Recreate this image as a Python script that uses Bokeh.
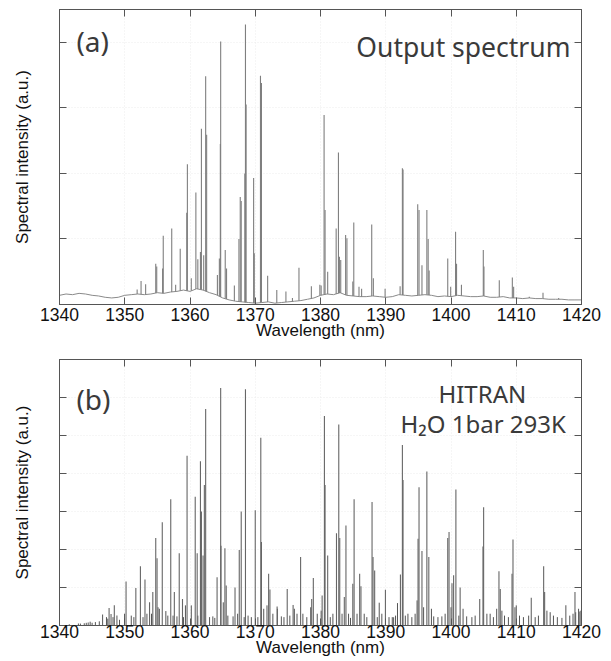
import numpy as np
from bokeh.plotting import figure
from bokeh.layouts import column
from bokeh.models import (LinearAxis, FixedTicker, CustomJSTickFormatter, Label,
                          Range1d, ColumnDataSource)
from bokeh.embed import file_html
from bokeh.resources import INLINE

# ---------------- data ----------------
x_ticks = [1340, 1350, 1360, 1370, 1380, 1390, 1400, 1410, 1420]
y_ticks_a = [1, 2, 3, 4]
y_ticks_b = [1, 2, 3, 4, 5, 6]

# (a) measured output spectrum: background level (every 1 nm)
base_wl_a = list(range(1340, 1421))
base_a = [0.14, 0.16, 0.15, 0.17, 0.16, 0.14, 0.13, 0.11, 0.10, 0.11,
          0.14, 0.15, 0.16, 0.15, 0.16, 0.18, 0.17, 0.19, 0.20, 0.22,
          0.20, 0.24, 0.22, 0.18, 0.15, 0.10, 0.07, 0.05, 0.04, 0.03,
          0.02, 0.03, 0.04, 0.02, 0.03, 0.04, 0.05, 0.06, 0.08, 0.10,
          0.14, 0.16, 0.15, 0.18, 0.14, 0.13, 0.12, 0.12, 0.13, 0.12,
          0.11, 0.12, 0.15, 0.14, 0.13, 0.14, 0.15, 0.14, 0.12, 0.13,
          0.12, 0.14, 0.13, 0.12, 0.12, 0.13, 0.11, 0.11, 0.12, 0.10,
          0.10, 0.09, 0.10, 0.09, 0.09, 0.08, 0.08, 0.08, 0.07, 0.07,
          0.07]

# (a) absorption-line peaks: wavelength (nm) and peak intensity
peak_wl_a = [1351.9, 1352.5, 1353.2, 1354.75, 1354.9, 1355.8, 1355.9, 1357.2,
             1357.8, 1358.5, 1359.5, 1359.6, 1360.2, 1360.9, 1361.2, 1361.6,
             1361.75, 1362.1, 1362.4, 1362.55, 1364.2, 1364.5, 1364.65, 1364.7,
             1365.4, 1365.6, 1366.8, 1367.5, 1367.7, 1367.85, 1368.4, 1368.5,
             1368.6, 1369.75, 1369.85, 1370.8, 1370.95, 1371.9, 1373.3, 1374.7,
             1375.7, 1376.7, 1378.6, 1379.9, 1380.1, 1380.55, 1380.7, 1381.1,
             1382.4, 1382.75, 1382.9, 1383.1, 1383.85, 1384.05, 1384.95, 1385.1,
             1385.9, 1386.3, 1387.85, 1388.1, 1389.9, 1392.2, 1392.55, 1392.65,
             1394.9, 1395.1, 1395.55, 1396.3, 1396.5, 1396.65, 1399.5, 1399.95,
             1400.7, 1400.85, 1401.6, 1404.95, 1405.05, 1407.4, 1409.4, 1409.6,
             1412.0, 1414.1, 1416.5]
peak_a = [0.23, 0.36, 0.31, 0.62, 0.58, 0.55, 1.05, 1.16,
          0.30, 0.85, 1.40, 2.14, 0.40, 1.71, 0.69, 0.80,
          2.68, 0.75, 3.48, 2.59, 0.45, 0.70, 2.45, 4.01,
          0.83, 0.55, 0.29, 1.00, 1.64, 1.58, 2.00, 4.27,
          3.05, 1.93, 0.78, 3.49, 3.38, 0.44, 0.22, 0.20,
          0.10, 0.56, 0.28, 0.30, 0.29, 2.89, 1.44, 0.50,
          1.16, 2.32, 0.73, 0.68, 1.06, 1.01, 0.35, 1.25,
          0.27, 0.24, 1.22, 0.40, 0.24, 0.28, 2.08, 2.06,
          1.53, 1.44, 0.60, 1.44, 1.00, 0.52, 0.70, 0.27,
          1.11, 0.62, 0.30, 0.83, 0.58, 0.37, 0.41, 0.27,
          0.12, 0.18, 0.10]

# (b) HITRAN H2O lines: strong lines
line_wl_b = [1341.5, 1342.9, 1343.8, 1344.4, 1345.0, 1346.6, 1347.6, 1347.9,
             1348.4, 1348.8, 1350.2, 1351.7, 1352.4, 1353.1, 1353.8, 1354.3,
             1354.75, 1354.95, 1355.75, 1357.05, 1357.6, 1358.35, 1358.85, 1359.55,
             1360.8, 1361.1, 1361.6, 1361.75, 1362.0, 1362.2, 1362.4, 1364.15,
             1364.7, 1364.75, 1365.35, 1365.55, 1366.9, 1367.55, 1367.85, 1368.5,
             1370.0, 1370.85, 1370.95, 1372.05, 1372.25, 1373.4, 1374.9, 1376.0,
             1376.95, 1378.65, 1378.9, 1380.25, 1380.6, 1380.7, 1381.1, 1382.45,
             1382.8, 1382.95, 1383.65, 1383.9, 1384.95, 1385.15, 1386.0, 1386.2,
             1387.9, 1388.05, 1388.3, 1389.95, 1391.2, 1392.25, 1392.55, 1392.65,
             1394.95, 1395.1, 1395.55, 1396.3, 1396.6, 1399.5, 1399.7, 1400.15,
             1400.4, 1400.75, 1401.4, 1404.4, 1404.9, 1405.0, 1407.35, 1407.55,
             1409.35, 1409.5, 1409.8, 1412.3, 1414.2, 1414.35, 1417.6, 1419.0,
             1419.1, 1419.65]
line_b = [0.03, 0.05, 0.06, 0.08, 0.07, 0.29, 0.46, 0.30,
          0.53, 0.26, 1.16, 0.99, 1.56, 1.21, 0.61, 0.88,
          2.30, 1.77, 2.72, 3.32, 0.88, 1.90, 0.70, 4.47,
          3.39, 1.90, 4.32, 3.00, 1.84, 3.70, 5.70, 1.27,
          6.25, 2.10, 2.03, 1.05, 1.00, 1.99, 3.00, 6.22,
          3.03, 4.94, 2.20, 1.36, 0.95, 0.44, 0.96, 0.44,
          1.80, 0.70, 1.25, 0.79, 5.51, 3.70, 1.84, 2.43,
          5.29, 2.30, 0.75, 2.63, 1.10, 3.32, 1.36, 1.03,
          3.25, 1.80, 1.45, 0.94, 0.22, 1.34, 4.75, 3.83,
          2.28, 3.64, 1.96, 4.05, 1.80, 2.30, 2.46, 1.11,
          1.32, 3.58, 1.00, 0.70, 2.08, 3.11, 1.43, 0.96,
          1.36, 2.26, 0.48, 0.73, 1.56, 0.88, 0.53, 0.88,
          0.35, 0.37]

# (b) HITRAN H2O lines: weak lines
weak_wl_b = [1343.2, 1344.1, 1344.7, 1345.5, 1346.1, 1347.2, 1347.4, 1348.2,
             1349.2, 1349.97, 1351.0, 1351.4, 1352.8, 1353.4, 1354.1, 1355.1,
             1355.3, 1356.3, 1356.6, 1357.4, 1358.0, 1359.0, 1359.3, 1360.2,
             1361.2, 1363.0, 1363.5, 1363.8, 1365.1, 1365.8, 1366.6, 1367.3,
             1368.3, 1368.9, 1369.4, 1370.4, 1371.3, 1371.8, 1372.7, 1373.35,
             1374.0, 1374.4, 1375.3, 1375.8, 1376.4, 1377.3, 1377.9, 1378.5,
             1379.5, 1380.1, 1381.5, 1381.9, 1383.3, 1384.3, 1384.6, 1385.6,
             1386.7, 1387.1, 1388.7, 1389.0, 1389.4, 1390.5, 1391.0, 1391.5,
             1391.8, 1393.0, 1393.4, 1394.0, 1394.5, 1394.8, 1395.8, 1397.0,
             1397.35, 1398.0, 1398.6, 1399.1, 1400.0, 1401.2, 1401.85, 1402.4,
             1403.2, 1403.7, 1405.5, 1406.0, 1406.5, 1407.0, 1407.8, 1408.2,
             1408.8, 1410.0, 1410.5, 1411.1, 1411.9, 1412.9, 1413.4, 1414.7,
             1415.2, 1415.7, 1416.3, 1417.0, 1418.2, 1418.7, 1419.55, 1419.9]
weak_b = [0.05, 0.07, 0.10, 0.09, 0.11, 0.22, 0.18, 0.22,
          0.15, 0.31, 0.26, 0.22, 0.22, 0.31, 0.31, 0.48,
          0.44, 0.38, 0.26, 0.26, 0.24, 0.22, 0.53, 0.53,
          0.26, 0.22, 0.24, 0.20, 0.61, 0.26, 0.24, 0.31,
          0.22, 0.26, 0.22, 0.22, 0.44, 0.53, 0.31, 0.50,
          0.24, 0.22, 0.26, 0.54, 0.31, 0.31, 0.22, 0.48,
          0.31, 0.39, 0.22, 0.31, 0.31, 0.31, 0.20, 0.31,
          0.31, 0.22, 0.22, 0.60, 0.31, 0.22, 0.22, 0.26,
          0.59, 0.26, 0.31, 0.22, 0.31, 0.66, 0.48, 0.44,
          0.24, 0.22, 0.24, 0.31, 0.48, 0.26, 0.44, 0.24,
          0.22, 0.26, 0.31, 0.31, 0.22, 0.44, 0.39, 0.26,
          0.22, 0.53, 0.26, 0.22, 0.26, 0.22, 0.26, 0.39,
          0.35, 0.26, 0.22, 0.20, 0.26, 0.31, 0.44, 0.39]

# ---------------- styling helpers ----------------
FRAME = "#555555"
TICKTXT = "#111111"
LBL_FONT = "Liberation Sans"
BIG_FONT = "Noto Sans"
BIG_COLOR = "#3a3a3a"
BLANK = CustomJSTickFormatter(code="return ''")


def style(p, yticks, tick_standoff, label_standoff):
    p.background_fill_color = "white"
    p.border_fill_color = "white"
    p.outline_line_color = FRAME
    p.outline_line_width = 1
    p.outline_line_alpha = 1.0

    xa = p.xaxis[0]
    xa.ticker = FixedTicker(ticks=x_ticks)
    xa.axis_label = "Wavelength (nm)"
    xa.axis_label_text_font = LBL_FONT
    xa.axis_label_text_font_size = "17px"
    xa.axis_label_text_font_style = "normal"
    xa.axis_label_text_color = TICKTXT
    xa.axis_label_standoff = label_standoff
    xa.major_label_text_font = LBL_FONT
    xa.major_label_text_font_size = "17.5px"
    xa.major_label_text_color = TICKTXT
    xa.major_label_standoff = tick_standoff
    xa.major_tick_in = 7
    xa.major_tick_out = 0
    xa.minor_tick_line_color = None
    xa.major_tick_line_color = FRAME
    xa.axis_line_color = FRAME

    ya = p.yaxis[0]
    ya.ticker = FixedTicker(ticks=yticks)
    ya.formatter = BLANK
    ya.major_label_text_font_size = "0px"
    ya.major_label_standoff = 0
    ya.axis_label = "Spectral intensity (a.u.)"
    ya.axis_label_text_font = LBL_FONT
    ya.axis_label_text_font_size = "17px"
    ya.axis_label_text_font_style = "normal"
    ya.axis_label_text_color = TICKTXT
    ya.axis_label_standoff = 28
    ya.major_tick_in = 7
    ya.major_tick_out = 0
    ya.minor_tick_line_color = None
    ya.major_tick_line_color = FRAME
    ya.axis_line_color = FRAME

    top = LinearAxis(ticker=FixedTicker(ticks=x_ticks), formatter=BLANK,
                     major_label_text_font_size="0px", major_label_standoff=0,
                     major_tick_in=7, major_tick_out=0, minor_tick_line_color=None,
                     major_tick_line_color=FRAME, axis_line_color=FRAME)
    p.add_layout(top, "above")
    right = LinearAxis(ticker=FixedTicker(ticks=yticks), formatter=BLANK,
                       major_label_text_font_size="0px", major_label_standoff=0,
                       major_tick_in=7, major_tick_out=0, minor_tick_line_color=None,
                       major_tick_line_color=FRAME, axis_line_color=FRAME)
    p.add_layout(right, "right")

    p.xgrid.ticker = FixedTicker(ticks=x_ticks)
    p.ygrid.ticker = FixedTicker(ticks=yticks)
    for g in (p.xgrid[0], p.ygrid[0]):
        g.grid_line_color = "#ededed"
        g.grid_line_dash = "1 2"
        g.grid_line_width = 1


# ---------------- panel (a) ----------------
p1 = figure(width=611, height=344, output_backend="svg", toolbar_location=None,
            x_range=Range1d(1340, 1420), y_range=Range1d(0, 4.5),
            min_border_top=9, min_border_left=59, min_border_right=30,
            min_border_bottom=40)
style(p1, y_ticks_a, 3, -3)

foot_a = np.interp(peak_wl_a, base_wl_a, base_a)
src_a = ColumnDataSource(dict(x=peak_wl_a, y0=foot_a, y1=peak_a))
p1.line(base_wl_a, base_a, line_color="#8a8a8a", line_width=1)
p1.segment(x0="x", y0="y0", x1="x", y1="y1", source=src_a,
           line_color="#7f7f7f", line_width=1.1)

p1.add_layout(Label(x=1342.6, y=4.02, text="(a)", text_font=BIG_FONT,
                    text_font_size="28px", text_color=BIG_COLOR,
                    text_align="left", text_baseline="middle"))
p1.add_layout(Label(x=1418.3, y=3.93, text="Output spectrum", text_font=BIG_FONT,
                    text_font_size="26.5px", text_color=BIG_COLOR,
                    text_align="right", text_baseline="alphabetic"))

# ---------------- panel (b) ----------------
p2 = figure(width=611, height=317, output_backend="svg", toolbar_location=None,
            x_range=Range1d(1340, 1420), y_range=Range1d(0, 7),
            min_border_top=15, min_border_left=59, min_border_right=30,
            min_border_bottom=36)
style(p2, y_ticks_b, -1, -3)

src_w = ColumnDataSource(dict(x=weak_wl_b, y0=[0] * len(weak_wl_b), y1=weak_b))
src_b = ColumnDataSource(dict(x=line_wl_b, y0=[0] * len(line_wl_b), y1=line_b))
p2.segment(x0="x", y0="y0", x1="x", y1="y1", source=src_w,
           line_color="#555555", line_width=1)
p2.segment(x0="x", y0="y0", x1="x", y1="y1", source=src_b,
           line_color="#666666", line_width=1.1)

p2.add_layout(Label(x=1342.6, y=5.95, text="(b)", text_font=BIG_FONT,
                    text_font_size="28px", text_color=BIG_COLOR,
                    text_align="left", text_baseline="middle"))
p2.add_layout(Label(x=1404.8, y=6.10, text="HITRAN", text_font=BIG_FONT,
                    text_font_size="24px", text_color=BIG_COLOR,
                    text_align="center", text_baseline="alphabetic"))
p2.add_layout(Label(x=1417.6, y=5.31, text="H\u2082O 1bar 293K", text_font=BIG_FONT,
                    text_font_size="24px", text_color=BIG_COLOR,
                    text_align="right", text_baseline="alphabetic"))

layout = column(p1, p2, spacing=0)
open("out.html", "w").write(file_html(layout, INLINE))
